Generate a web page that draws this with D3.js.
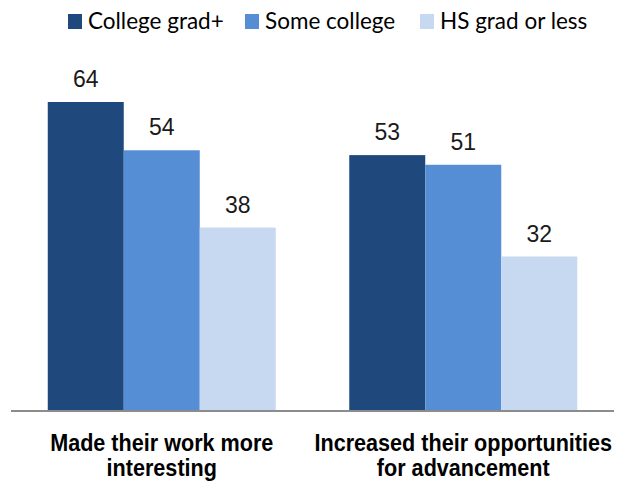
<!DOCTYPE html>
<html>
<head>
<meta charset="utf-8">
<script src="https://cdn.jsdelivr.net/npm/d3@7"></script>
<style>
  html, body { margin: 0; padding: 0; background: #fff; }
  svg { display: block; }
</style>
</head>
<body>
<svg id="chart" width="624" height="481"></svg>
<script>
// Categories (two-line labels) and education-group series
const categories = ["Made their work more interesting", "Increased their opportunities for advancement"];
const categoryLines = [["Made their work more", "interesting"], ["Increased their opportunities", "for advancement"]];
const seriesNames = ["College grad+", "Some college", "HS grad or less"];
const collegeGrad = [64, 53];
const someCollege = [54, 51];
const hsOrLess = [38, 32];
const seriesColors = ["#1f497d", "#558ed5", "#c6d9f1"];

const seriesValues = [collegeGrad, someCollege, hsOrLess];
const rows = categories.map((c, i) => ({
  category: c,
  values: seriesNames.map((s, j) => ({ series: s, value: seriesValues[j][i] }))
}));

const svg = d3.select("#chart");
const baseY = 411;
const left = 11, right = 614;

const x0 = d3.scaleBand().domain(categories).range([left, right])
  .paddingInner(0.2438).paddingOuter(0.1219);
const x1 = d3.scaleBand().domain(seriesNames).range([0, x0.bandwidth()]);
const y = d3.scaleLinear().domain([0, 64]).range([baseY, 102]);
const color = d3.scaleOrdinal().domain(seriesNames).range(seriesColors);

// Bars
const groups = svg.append("g").selectAll("g").data(rows).join("g")
  .attr("transform", d => `translate(${x0(d.category)},0)`);

groups.selectAll("rect").data(d => d.values).join("rect")
  .attr("x", d => x1(d.series))
  .attr("width", x1.bandwidth())
  .attr("y", d => y(d.value))
  .attr("height", d => baseY - y(d.value))
  .attr("fill", d => color(d.series));

// Value labels
groups.selectAll("text.val").data(d => d.values).join("text")
  .attr("class", "val")
  .attr("x", d => x1(d.series) + x1.bandwidth() / 2)
  .attr("y", d => y(d.value) - 15)
  .attr("text-anchor", "middle")
  .attr("font-family", "Liberation Sans, Arial, sans-serif")
  .attr("font-size", 23)
  .attr("fill", "#1a1a1a")
  .text(d => d.value);

// Baseline axis
const xAxis = d3.axisBottom(x0).tickSize(0).tickFormat("");
const axisG = svg.append("g").attr("transform", `translate(0,${baseY})`).call(xAxis);
axisG.select(".domain").attr("stroke", "#8c8c8c").attr("stroke-width", 2)
  .attr("d", `M${left},0H${right}`);

// Category labels: bold, horizontally condensed
const catG = svg.append("g");
categories.forEach((c, i) => {
  const cx = x0(c) + x0.bandwidth() / 2;
  categoryLines[i].forEach((line, k) => {
    catG.append("text")
      .attr("transform", `translate(${cx},${451 + k * 25}) scale(0.9,1)`)
      .attr("text-anchor", "middle")
      .attr("font-family", "Liberation Sans, Arial, sans-serif")
      .attr("font-weight", "bold")
      .attr("font-size", 24)
      .attr("fill", "#000")
      .text(line);
  });
});

// Legend
const legendX = [68, 245, 420];
const legend = svg.append("g").selectAll("g").data(seriesNames).join("g")
  .attr("transform", (d, i) => `translate(${legendX[i]},14)`);
legend.append("rect").attr("width", 14).attr("height", 15).attr("fill", d => color(d));
legend.append("text")
  .attr("x", 20).attr("y", 15)
  .attr("font-family", "Lato, Carlito, sans-serif")
  .attr("font-size", 22.5)
  .attr("fill", "#000")
  .text(d => d);
</script>
</body>
</html>
